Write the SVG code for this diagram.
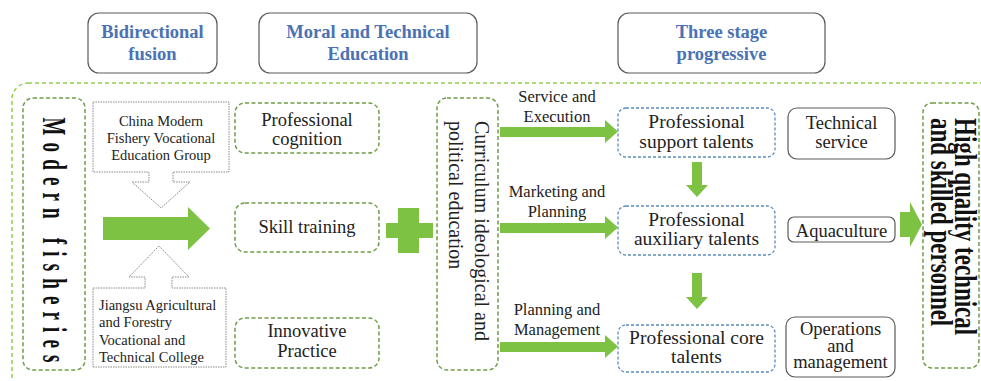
<svg xmlns="http://www.w3.org/2000/svg" width="981" height="381" viewBox="0 0 981 381">
  <style>
    text { font-family: "Liberation Serif", "Times New Roman", serif; fill: #222; }
    .hdr { fill: #fff; stroke: #5a5a5a; stroke-width: 1.2; }
    .htxt { font-weight: bold; font-size: 18.5px; fill: #4a72b4; text-anchor: middle; }
    .gbox { fill: #fff; stroke: #6f9d48; stroke-width: 1.5; stroke-dasharray: 4 2.5; }
    .bbox { fill: #fff; stroke: #5b8cbf; stroke-width: 1.3; stroke-dasharray: 3 2; }
    .sbox { fill: #fff; stroke: #5a5a5a; stroke-width: 1.2; }
    .dot { fill: #fff; stroke: #8a8a8a; stroke-width: 1; stroke-dasharray: 1.5 1; }
    .t { font-size: 18.5px; text-anchor: middle; }
    .tt { font-size: 19.5px; text-anchor: middle; }
    .tv { font-size: 20px; text-anchor: start; }
    .ts { font-size: 14.5px; }
    .tl { font-size: 16.5px; text-anchor: middle; }
    .tb { font-weight: bold; fill: #111; }
    .green { fill: #7dc243; }
  </style>

  <!-- column headings -->
  <g id="head-bidirectional">
    <rect class="hdr" x="88" y="13" width="129" height="60" rx="11"/>
    <text class="htxt" x="152.5" y="38">Bidirectional</text>
    <text class="htxt" x="152.5" y="60">fusion</text>
  </g>
  <g id="head-moral">
    <rect class="hdr" x="259" y="13" width="218" height="60" rx="11"/>
    <text class="htxt" x="368" y="38">Moral and Technical</text>
    <text class="htxt" x="368" y="60">Education</text>
  </g>
  <g id="head-three-stage">
    <rect class="hdr" x="618" y="13" width="207" height="60" rx="11"/>
    <text class="htxt" x="721.5" y="38">Three stage</text>
    <text class="htxt" x="721.5" y="60">progressive</text>
  </g>

  <!-- outer frame -->
  <rect id="frame" x="12" y="83" width="990" height="310" rx="16" fill="none" stroke="#92d050" stroke-width="1.5" stroke-dasharray="4 3"/>

  <g id="modern-fisheries">
    <rect class="gbox" x="23" y="98" width="62" height="272" rx="10"/>
    <g transform="translate(54,240) rotate(90) scale(1,1.75)">
      <text class="tb" x="0" y="6.2" font-size="19" text-anchor="middle" textLength="245" lengthAdjust="spacing">Modern fisheries</text>
    </g>
  </g>

  <g id="fishery-group">
    <path class="dot" d="M93,102 H229 V172 H173 V182 H190 L161,208 L132,182 H149 V172 H93 Z"/>
    <text class="ts" x="161" y="126" text-anchor="middle">China Modern</text>
    <text class="ts" x="161" y="143" text-anchor="middle">Fishery Vocational</text>
    <text class="ts" x="161" y="160" text-anchor="middle">Education Group</text>
  </g>

  <g id="jiangsu-college">
    <path class="dot" d="M93,367 H226 V288 H172 V277 H189 L159,246 L129,277 H145 V288 H93 Z"/>
    <text class="ts" x="99" y="310">Jiangsu Agricultural</text>
    <text class="ts" x="99" y="327">and Forestry</text>
    <text class="ts" x="99" y="345">Vocational and</text>
    <text class="ts" x="99" y="362">Technical College</text>
  </g>

  <g id="cognition">
    <rect class="gbox" x="235" y="103" width="144" height="50" rx="10"/>
    <text class="t" x="307" y="126">Professional</text>
    <text class="t" x="307" y="145">cognition</text>
  </g>
  <g id="skill-training">
    <rect class="gbox" x="235" y="203" width="144" height="49" rx="10"/>
    <text class="t" x="307" y="233">Skill training</text>
  </g>
  <g id="innovative-practice">
    <rect class="gbox" x="235" y="318" width="144" height="50" rx="10"/>
    <text class="t" x="307" y="337">Innovative</text>
    <text class="t" x="307" y="357">Practice</text>
  </g>

  <g id="curriculum">
    <rect class="gbox" x="437" y="98" width="61" height="272" rx="10"/>
    <g transform="translate(467,121) rotate(90)">
      <text class="tv" x="0" y="-8">Curriculum ideological and</text>
      <text class="tv" x="0" y="18">political education</text>
    </g>
  </g>

  <g id="support-talents">
    <rect class="bbox" x="618" y="108" width="157" height="49" rx="8"/>
    <text class="tt" x="696.5" y="128">Professional</text>
    <text class="tt" x="696.5" y="148">support talents</text>
  </g>
  <g id="auxiliary-talents">
    <rect class="bbox" x="618" y="206" width="157" height="49" rx="8"/>
    <text class="tt" x="696.5" y="226">Professional</text>
    <text class="tt" x="696.5" y="245">auxiliary talents</text>
  </g>
  <g id="core-talents">
    <rect class="bbox" x="618" y="325" width="157" height="47" rx="8"/>
    <text class="tt" x="696.5" y="344">Professional core</text>
    <text class="tt" x="696.5" y="363">talents</text>
  </g>

  <g id="technical-service">
    <rect class="sbox" x="788" y="108" width="107" height="51" rx="9"/>
    <text class="t" x="841.5" y="129">Technical</text>
    <text class="t" x="841.5" y="148">service</text>
  </g>
  <g id="aquaculture">
    <rect class="sbox" x="788" y="217" width="107" height="25" rx="6"/>
    <text class="t" x="841.5" y="237">Aquaculture</text>
  </g>
  <g id="operations">
    <rect class="sbox" x="786" y="317" width="109" height="60" rx="9"/>
    <text class="t" x="840.5" y="335" font-size="17.5">Operations</text>
    <text class="t" x="840.5" y="352" font-size="17.5">and</text>
    <text class="t" x="840.5" y="368" font-size="17.5">management</text>
  </g>

  <g id="skilled-personnel">
    <rect class="gbox" x="923" y="103" width="56" height="265" rx="9"/>
    <g transform="translate(950,118) rotate(90) scale(1,1.35)">
      <text class="tb" x="0" y="-4" font-size="23">High quality technical</text>
      <text class="tb" x="0" y="14" font-size="23">and skilled personnel</text>
    </g>
  </g>

  <!-- connectors -->
  <g id="connectors">
    <!-- fusion arrow -->
    <path class="green" d="M103,217 H188 V207 L210,228.5 L188,250 V240 H103 Z"/>
    <!-- plus -->
    <path class="green" d="M398,208 H419 V223 H433 V238 H419 V253 H398 V238 H386 V223 H398 Z"/>
    <!-- curriculum to talents -->
    <path class="green" d="M500,127 H605 V120 L618,131.5 L605,143 V137 H500 Z"/>
    <path class="green" d="M500,223 H605 V216 L618,227.5 L605,239 V233 H500 Z"/>
    <path class="green" d="M500,342 H605 V335 L618,346.5 L605,358 V352 H500 Z"/>
    <!-- stage progression -->
    <path class="green" d="M692,162 H702 V185 H708 L697,197 L686,185 H692 Z"/>
    <path class="green" d="M692,273 H702 V297 H708 L697,309 L686,297 H692 Z"/>
    <!-- outcome arrow -->
    <path class="green" d="M900,212 H910 V202 L922,224.5 L910,247 V237 H900 Z"/>
    <!-- path labels -->
    <text class="tl" x="557" y="102">Service and</text>
    <text class="tl" x="557" y="122">Execution</text>
    <text class="tl" x="557" y="197">Marketing and</text>
    <text class="tl" x="557" y="217">Planning</text>
    <text class="tl" x="557" y="315">Planning and</text>
    <text class="tl" x="557" y="335">Management</text>
  </g>
</svg>
